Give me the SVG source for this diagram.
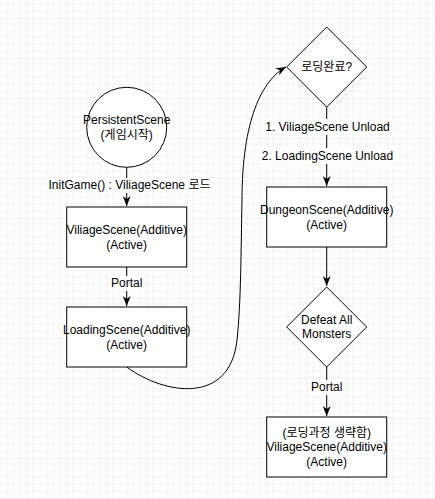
<svg xmlns="http://www.w3.org/2000/svg" width="435" height="499" viewBox="0 0 435 499">
<defs>
<pattern id="grid" patternUnits="userSpaceOnUse" x="26.667" y="17.333" width="40" height="40">
<path d="M6.667 0V40M13.333 0V40M20 0V40M26.667 0V40M33.333 0V40M0 6.667H40M0 13.333H40M0 20H40M0 26.667H40M0 33.333H40" stroke="#f3f3f3" stroke-width="1" fill="none"/>
<path d="M0 0V40M0 0H40" stroke="#e1e1e1" stroke-width="1" fill="none"/>
</pattern>
<marker id="arr" markerUnits="userSpaceOnUse" markerWidth="10" markerHeight="8" refX="10" refY="4" orient="auto">
<path d="M0,0 L10,4 L0,8 L3,4 Z" fill="#000"/>
</marker>
</defs>
<style>
.shape{fill:#fff;stroke:#000;stroke-width:1}
.edge{fill:none;stroke:#000;stroke-width:1}
text{font-family:"Liberation Sans","Noto Sans CJK KR",Arial,sans-serif;font-size:12px;fill:#000;text-anchor:middle}
.lblbg{fill:#fff}
</style>
<rect width="435" height="499" fill="#fff"/>
<rect width="435" height="499" fill="url(#grid)"/>

<g id="connectors">
<path class="edge" d="M126.7 167.3V206" marker-end="url(#arr)"/>
<rect class="lblbg" x="47" y="178" width="166" height="15"/>
<text x="129.5" y="189">InitGame() : ViliageScene 로드</text>

<path class="edge" d="M126.7 267V306" marker-end="url(#arr)"/>
<rect class="lblbg" x="110" y="276" width="34" height="15"/>
<text x="126.7" y="287">Portal</text>

<path class="edge" d="M126.7 367C165 395 230 405 237 340C241 303 241 250 242 200C242 120 262 80 286 67" marker-end="url(#arr)"/>

<path class="edge" d="M326.7 107V186" marker-end="url(#arr)"/>
<rect class="lblbg" x="262" y="119" width="131" height="16"/>
<text x="327.5" y="131">1. ViliageScene Unload</text>
<rect class="lblbg" x="260" y="148" width="135" height="16"/>
<text x="327.5" y="160">2. LoadingScene Unload</text>

<path class="edge" d="M326.7 247V286" marker-end="url(#arr)"/>

<path class="edge" d="M326.7 367V416" marker-end="url(#arr)"/>
<rect class="lblbg" x="310" y="380" width="34" height="15"/>
<text x="326.7" y="391">Portal</text>
</g>

<g id="node-persistent">
<circle class="shape" cx="126.7" cy="127.3" r="40"/>
<text x="126.7" y="124">PersistentScene</text>
<text x="126.7" y="139">(게임시작)</text>
</g>

<g id="node-viliage">
<rect class="shape" x="66.7" y="207" width="120" height="60"/>
<text x="126.7" y="234">ViliageScene(Additive)</text>
<text x="126.7" y="249">(Active)</text>
</g>

<g id="node-loading">
<rect class="shape" x="66.7" y="307" width="120" height="60"/>
<text x="126.7" y="334">LoadingScene(Additive)</text>
<text x="126.7" y="349">(Active)</text>
</g>

<g id="node-loaded">
<path class="shape" d="M326.7 27L366.7 67L326.7 107L286.7 67Z"/>
<text x="326.7" y="71">로딩완료?</text>
</g>

<g id="node-dungeon">
<rect class="shape" x="266.7" y="187" width="120" height="60"/>
<text x="326.7" y="214">DungeonScene(Additive)</text>
<text x="326.7" y="229">(Active)</text>
</g>

<g id="node-defeat">
<path class="shape" d="M326.7 287L366.7 327L326.7 367L286.7 327Z"/>
<text x="326.7" y="324">Defeat All</text>
<text x="326.7" y="338">Monsters</text>
</g>

<g id="node-viliage2">
<rect class="shape" x="266.7" y="417" width="120" height="60"/>
<text x="326.7" y="437">(로딩과정 생략함)</text>
<text x="326.7" y="451">ViliageScene(Additive)</text>
<text x="326.7" y="466">(Active)</text>
</g>
</svg>
